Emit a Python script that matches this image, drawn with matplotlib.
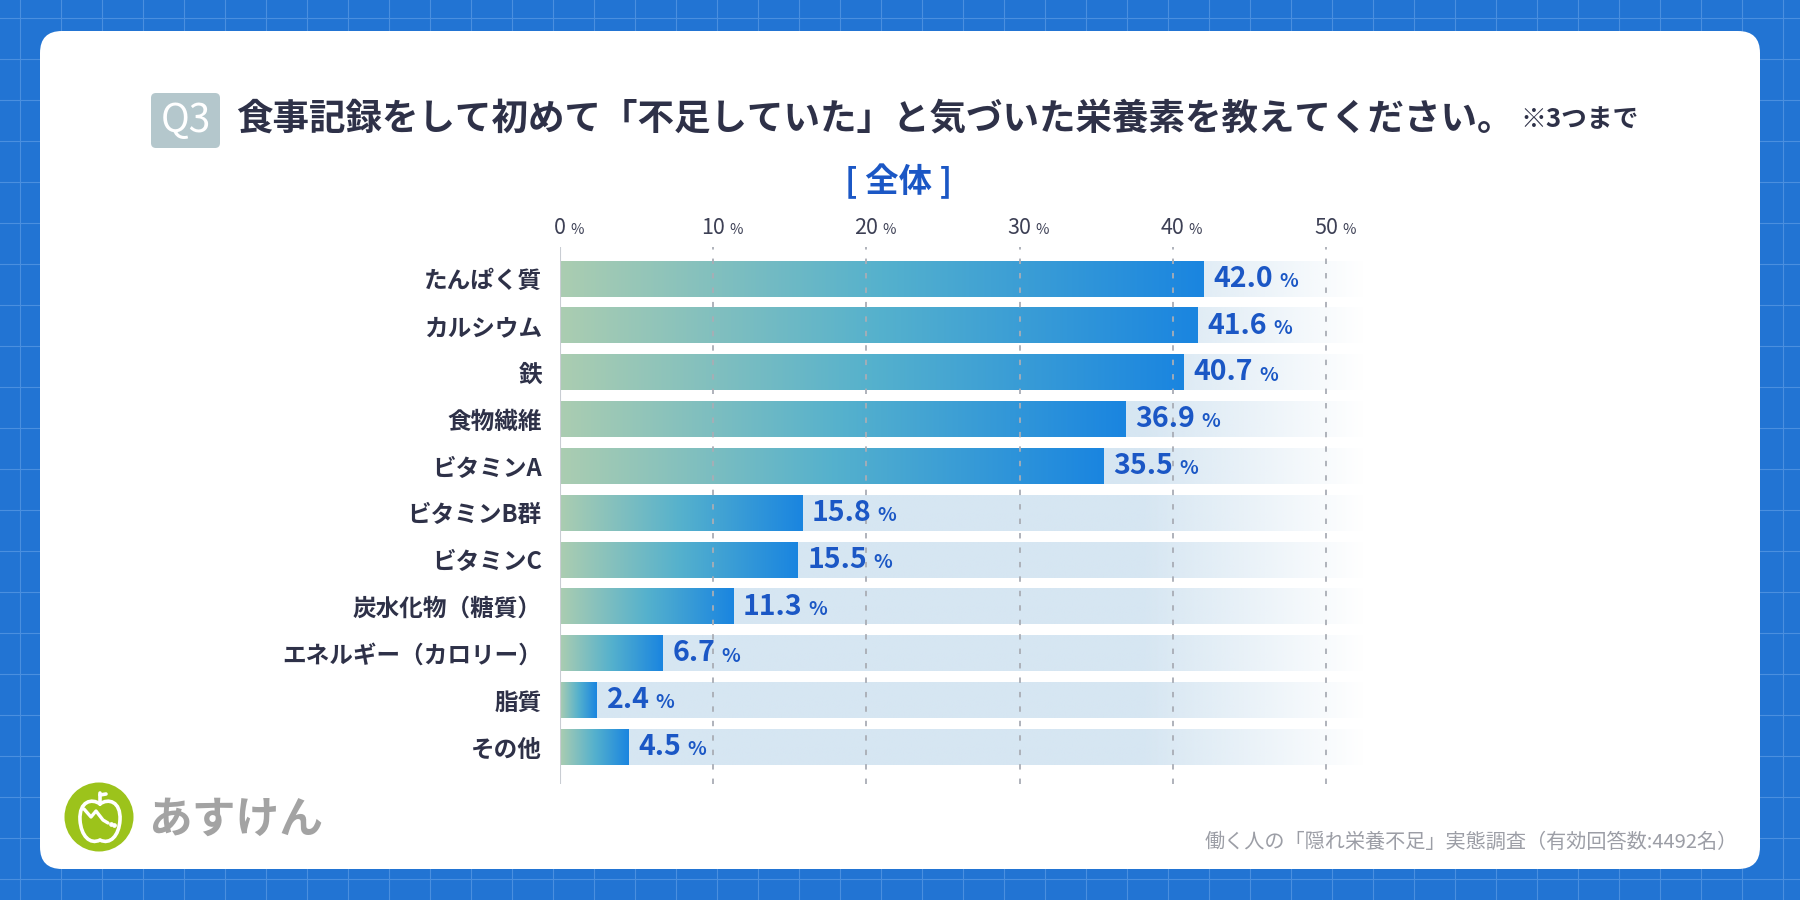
import numpy as np
import matplotlib.pyplot as plt
from matplotlib.colors import LinearSegmentedColormap, to_rgb
from matplotlib.patches import FancyBboxPatch, Rectangle, Circle, PathPatch
from matplotlib.path import Path

plt.rcParams['font.family'] = ['Noto Sans CJK JP', 'DejaVu Sans']

# data
categories = ['たんぱく質', 'カルシウム', '鉄', '食物繊維', 'ビタミンA', 'ビタミンB群',
              'ビタミンC', '炭水化物（糖質）', 'エネルギー（カロリー）', '脂質', 'その他']
values = [42.0, 41.6, 40.7, 36.9, 35.5, 15.8, 15.5, 11.3, 6.7, 2.4, 4.5]
ticks = [0, 10, 20, 30, 40, 50]

qlabel = 'Q3'
title = '食事記録をして初めて「不足していた」と気づいた栄養素を教えてください。'
note = '※3つまで'
subtitle = '[ 全体 ]'
source = '働く人の「隠れ栄養不足」実態調査（有効回答数:4492名）'
brand = 'あすけん'

NAVY = '#2e3148'
BLUE = '#1b57c5'
W, H = 1800, 900

fig = plt.figure(figsize=(18, 9), dpi=100)

# background: blue grid paper + white card (pixel coords, y down)
bg = fig.add_axes([0, 0, 1, 1])
bg.set_xlim(0, W)
bg.set_ylim(H, 0)
bg.axis('off')
bg.add_patch(Rectangle((0, 0), W, H, fc='#2274d3', ec='none', zorder=0))
for g in np.arange(20, W, 41):
    bg.plot([g, g], [0, H], color='#4a8fdf', lw=0.8, zorder=1)
for g in np.arange(18, H, 41):
    bg.plot([0, W], [g, g], color='#4a8fdf', lw=0.8, zorder=1)
bg.add_patch(FancyBboxPatch((40, 31), 1720, 838, boxstyle='round,pad=0,rounding_size=22',
                            fc='white', ec='none', zorder=2))

# title block
bg.add_patch(FancyBboxPatch((151, 93), 69, 55, boxstyle='round,pad=0,rounding_size=5',
                            fc='#b4c7cc', ec='none', zorder=3))
bg.text(185.5, 121, qlabel, fontsize=28, color='white', ha='center', va='center', zorder=4)
bg.text(236, 119, title, fontsize=26.3, fontweight='bold', color=NAVY, ha='left', va='center', zorder=4)
bg.text(1520, 120, note, fontsize=18.5, fontweight='bold', color=NAVY, ha='left', va='center', zorder=4)
bg.text(899, 181, subtitle, fontsize=24, fontweight='bold', color=BLUE, ha='center', va='center', zorder=4)

# footer
bg.text(1738, 842, source, fontsize=14.5, color='#9c9ea6', ha='right', va='center', zorder=4)
bg.text(148, 820, brand, fontsize=31.5, fontweight='bold', color='#a3a3a3', ha='left', va='center', zorder=4)

# logo: green circle with white apple
bg.add_patch(Circle((99, 817), 34.5, fc='#9cc31b', ec='none', zorder=3))
apple = Path([(100, 804), (108, 798), (121, 801), (120, 820),
              (119, 836), (110, 845), (100, 840),
              (90, 845), (81, 836), (80, 820),
              (79, 801), (92, 798), (100, 804)],
             [Path.MOVETO, Path.CURVE4, Path.CURVE4, Path.CURVE4,
              Path.CURVE4, Path.CURVE4, Path.CURVE4,
              Path.CURVE4, Path.CURVE4, Path.CURVE4,
              Path.CURVE4, Path.CURVE4, Path.CURVE4])
bg.add_patch(PathPatch(apple, fc='none', ec='white', lw=2.6, zorder=4, capstyle='round'))
bg.plot([100, 100], [803, 793], color='white', lw=2.6, solid_capstyle='round', zorder=4)
bg.plot([100, 106], [795, 794], color='white', lw=2.6, solid_capstyle='round', zorder=4)
bg.plot([84, 91, 96, 103, 108], [809, 817, 811, 820, 823], color='white', lw=2.4,
        solid_capstyle='round', solid_joinstyle='round', zorder=4)
bg.plot([111, 114], [824, 825], 'o', color='white', ms=2.4, zorder=4)

# chart axes: 0% at x=560, 50% at x=1326
px = (1326 - 560) / 50.0
xmax = 55
ax_top, ax_bot = 247, 784
ax = fig.add_axes([560 / W, 1 - ax_bot / H, xmax * px / W, (ax_bot - ax_top) / H])
ax.patch.set_alpha(0)

bar_h = 0.76
cmap = LinearSegmentedColormap.from_list('bar', [(0, '#abcdb1'), (0.5, '#55b1cd'), (1, '#1a85e0')])
grad = np.linspace(0, 1, 256)[None, :]

# faded light-blue track behind each bar
track_end = 52.5
xs = np.linspace(0, track_end, 300)
alpha = np.clip((track_end - xs) / (track_end - 38.0), 0, 1)
track = np.zeros((1, len(xs), 4))
track[0, :, :3] = to_rgb('#d6e6f2')
track[0, :, 3] = alpha

rows = np.arange(len(categories))
for i, v in zip(rows, values):
    ax.imshow(track, extent=(0, track_end, i + bar_h / 2, i - bar_h / 2), aspect='auto',
              interpolation='bilinear', zorder=1)
    ax.imshow(grad, cmap=cmap, extent=(0, v, i + bar_h / 2, i - bar_h / 2), aspect='auto',
              interpolation='bilinear', zorder=2)
    num = ax.annotate(f'{v:.1f}', xy=(v, i), xytext=(7, 0), textcoords='offset points',
                      ha='left', va='center', fontsize=20.5, fontweight='bold', color=BLUE, zorder=6)
    ax.annotate('%', xy=(1, 0), xycoords=num, xytext=(4.5, 1.3), textcoords='offset points',
                ha='left', va='bottom', fontsize=14, fontweight='bold', color=BLUE, zorder=6)

# grid lines and top tick labels
for t in ticks:
    if t == 0:
        ax.axvline(0, color='#c9cdd3', lw=1.5, zorder=4)
    else:
        ax.axvline(t, color='#a9adb5', lw=1.3, dashes=(3, 5), zorder=4)
    tl = ax.annotate(str(t), xy=(t, 1), xycoords=('data', 'axes fraction'), xytext=(0, 14),
                     textcoords='offset points', ha='center', va='center', fontsize=15.5, color='#3d4055')
    ax.annotate('%', xy=(1, 0), xycoords=tl, xytext=(3, 1), textcoords='offset points',
                ha='left', va='bottom', fontsize=10.5, color='#3d4055')

ax.set_xlim(0, xmax)
ax.set_ylim(len(categories) - 1 + 0.79, -0.68)
ax.set_xticks([])
ax.set_yticks(rows)
ax.set_yticklabels(categories, fontsize=17, fontweight='bold', color=NAVY)
ax.tick_params(axis='y', length=0, pad=13)
for s in ax.spines.values():
    s.set_visible(False)

fig.savefig('out.png', dpi=100)
